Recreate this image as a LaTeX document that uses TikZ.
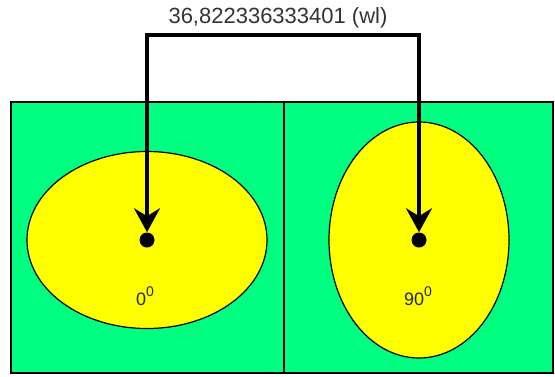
\documentclass[tikz,border=0pt]{standalone}
\usepackage{fontspec}
\setmainfont{Liberation Sans}
\usepackage{tikz}
\usetikzlibrary{arrows.meta,positioning,calc,shapes.geometric}
\definecolor{panelgreen}{HTML}{00FF80}
\definecolor{discyellow}{HTML}{FFFF00}
\newcommand{\degsup}[1]{\raisebox{0.5em}{\fontsize{14}{14}\selectfont #1}}
\tikzset{
  >=Stealth,
  every picture/.append style={line width=0.6pt},
}

\begin{document}
\begin{tikzpicture}[
  x=1pt, y=-1pt,
  panel/.style={draw=black, line width=2pt, fill=panelgreen, minimum width=#1, minimum height=271pt, inner sep=0pt},
  disc/.style={draw=black, line width=1.2pt, fill=discyellow, ellipse, inner sep=0pt},
  dot/.style={circle, fill=black, minimum size=15pt, inner sep=0pt},
  angle/.style={text=black!85, font=\fontsize{18}{20}\selectfont, inner sep=0pt, anchor=base},
  conn/.style={{Stealth[length=24pt, width=26pt, inset=8pt]}-{Stealth[length=24pt, width=26pt, inset=8pt]}, line width=3.2pt, draw=black}
]
\useasboundingbox (0,0) rectangle (555,376);

% Two panels side by side
\node[panel=273pt] (pleft) at (147.5,237.5) {};
\node[panel=269pt] (pright) at (418.5,237.5) {};

% Discs at 0 and 90 degrees
\node[disc, minimum width=240pt, minimum height=177pt] (dleft) at (147,240) {};
\node[disc, minimum width=180pt, minimum height=236pt] (dright) at (419,240) {};

% Centre points
\node[dot] (cleft) at (147,240) {};
\node[dot] (cright) at (419,240) {};

% Angle labels
\node[angle] (aleft) at (145,305) {0\degsup{0}};
\node[angle] (aright) at (418,305) {90\degsup{0}};

% Distance link between the centres
\coordinate (top) at (283,35);
\draw[conn] (cleft) |- (top) -| (cright);
\node[text=black!80, font=\fontsize{22}{26}\selectfont, anchor=base] (dist) at (278,23) {36,822336333401 (wl)};

\end{tikzpicture}
\end{document}
